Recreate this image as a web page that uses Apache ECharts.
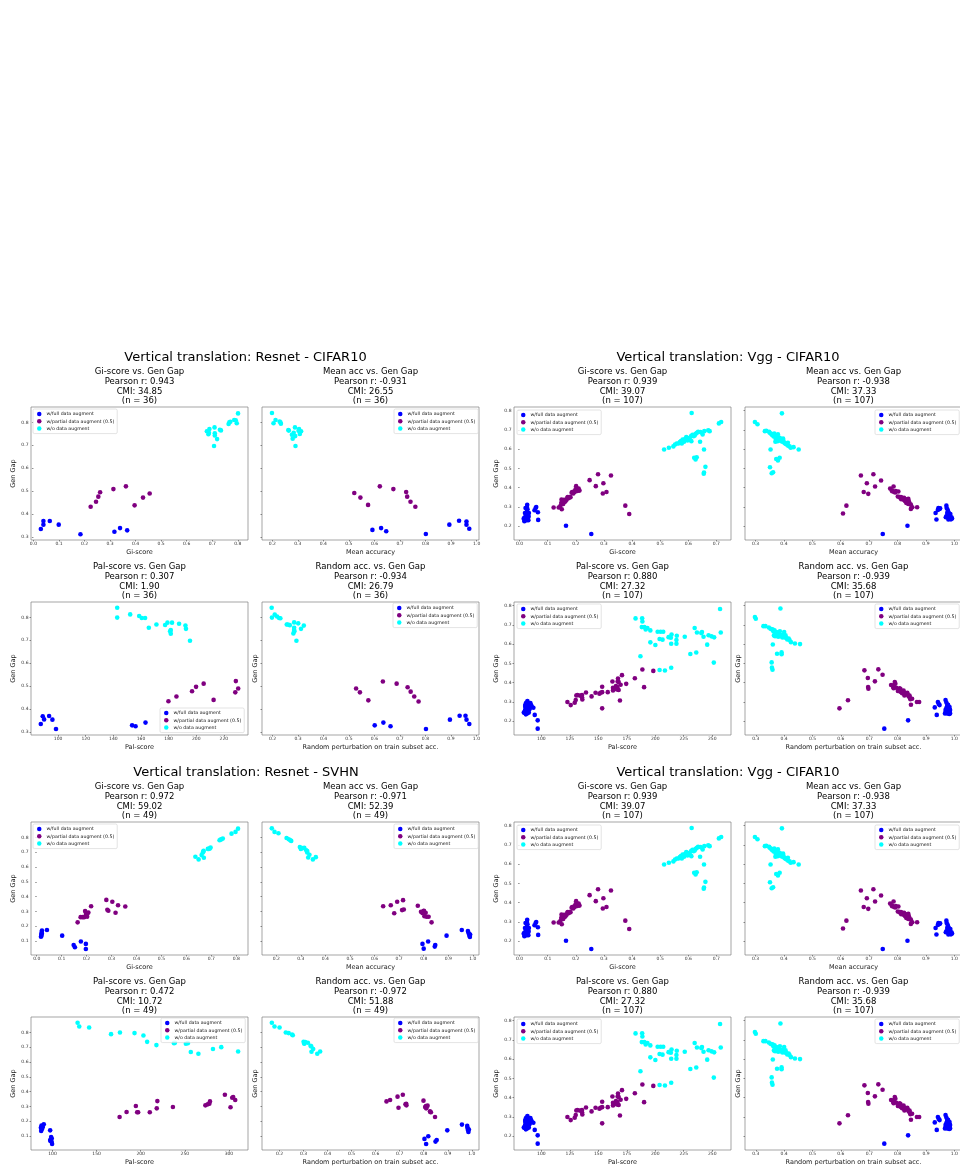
<!DOCTYPE html>
<html><head><meta charset="utf-8">
<script src="https://cdn.jsdelivr.net/npm/echarts@6/dist/echarts.min.js"></script>
<style>html,body{margin:0;padding:0;background:#fff}#c{width:960px;height:1168px}</style>
</head><body><div id="c"></div>
<script>
const GROUPS = ['w/full data augment', 'w/partial data augment (0.5)', 'w/o data augment'];
const COLORS = ['#0000ff', '#800080', '#00ffff'];
const SUBTITLES = ['Gi-score vs. Gen Gap', 'Mean acc vs. Gen Gap', 'Pal-score vs. Gen Gap', 'Random acc. vs. Gen Gap'];
const XNAMES = ['Gi-score', 'Mean accuracy', 'Pal-score', 'Random perturbation on train subset acc.'];

// ---------- Resnet - CIFAR10 ----------
const rcPearson = ['0.943', '-0.931', '0.307', '-0.934'];
const rcCMI = ['34.85', '26.55', '1.90', '26.79'];
const rcN = 36;
const rcGiFull = [[0.029,0.335],[0.039,0.370],[0.039,0.354],[0.064,0.370],[0.099,0.354],[0.184,0.312],[0.317,0.323],[0.339,0.339],[0.367,0.329]];
const rcGiPartial = [[0.224,0.432],[0.245,0.454],[0.254,0.476],[0.261,0.495],[0.313,0.509],[0.362,0.521],[0.396,0.438],[0.429,0.472],[0.455,0.490]];
const rcGiNone = [[0.679,0.761],[0.685,0.748],[0.689,0.771],[0.709,0.778],[0.710,0.752],[0.710,0.743],[0.707,0.697],[0.719,0.727],[0.734,0.765],[0.730,0.768],[0.764,0.793],[0.767,0.800],[0.771,0.803],[0.786,0.810],[0.796,0.796],[0.801,0.839],[0.792,0.809],[0.687,0.755]];
const rcAccFull = [[0.592,0.331],[0.626,0.339],[0.646,0.325],[0.801,0.313],[0.893,0.354],[0.931,0.371],[0.960,0.368],[0.960,0.354],[0.971,0.336]];
const rcAccPartial = [[0.521,0.492],[0.545,0.472],[0.575,0.440],[0.621,0.521],[0.674,0.509],[0.724,0.496],[0.728,0.476],[0.741,0.454],[0.760,0.432]];
const rcAccNone = [[0.199,0.841],[0.205,0.796],[0.213,0.810],[0.229,0.804],[0.234,0.794],[0.263,0.767],[0.277,0.746],[0.280,0.729],[0.289,0.778],[0.290,0.740],[0.291,0.697],[0.305,0.771],[0.308,0.749],[0.313,0.761],[0.265,0.764],[0.232,0.800],[0.303,0.763],[0.284,0.755]];
const rcPalFull = [[87.5,0.335],[88.9,0.369],[89.9,0.355],[93.5,0.370],[95.9,0.354],[98.5,0.313],[153.6,0.329],[156.1,0.325],[163.3,0.341]];
const rcPalPartial = [[179.9,0.434],[185.7,0.455],[197.0,0.478],[199.9,0.497],[205.4,0.511],[212.6,0.440],[228.3,0.473],[228.7,0.522],[230.4,0.490]];
const rcPalNone = [[142.8,0.842],[142.8,0.799],[152.2,0.813],[158.7,0.806],[160.6,0.797],[163.0,0.797],[165.7,0.755],[171.2,0.769],[177.5,0.767],[179.2,0.777],[181.1,0.739],[181.6,0.729],[182.5,0.777],[187.6,0.772],[192.2,0.764],[192.6,0.750],[195.5,0.698],[181.6,0.745]];
const rcRandFull = [[0.601,0.329],[0.635,0.341],[0.663,0.325],[0.802,0.313],[0.896,0.354],[0.934,0.371],[0.957,0.371],[0.961,0.354],[0.972,0.335]];
const rcRandPartial = [[0.528,0.490],[0.543,0.473],[0.576,0.438],[0.633,0.520],[0.687,0.511],[0.730,0.495],[0.742,0.476],[0.756,0.455],[0.773,0.433]];
const rcRandNone = [[0.197,0.842],[0.198,0.799],[0.209,0.812],[0.218,0.804],[0.226,0.797],[0.231,0.796],[0.260,0.769],[0.268,0.766],[0.285,0.778],[0.285,0.755],[0.285,0.745],[0.282,0.730],[0.301,0.774],[0.312,0.750],[0.323,0.764],[0.294,0.698],[0.256,0.769],[0.286,0.739]];

// ---------- Vgg - CIFAR10 ----------
const vcPearson = ['0.939', '-0.938', '0.880', '-0.939'];
const vcCMI = ['39.07', '37.33', '27.32', '35.68'];
const vcN = 107;
const vcGiFull = [[0.015,0.242],[0.017,0.226],[0.019,0.269],[0.021,0.295],[0.022,0.252],[0.025,0.231],[0.026,0.278],[0.027,0.311],[0.028,0.288],[0.030,0.257],[0.031,0.231],[0.032,0.250],[0.018,0.243],[0.024,0.240],[0.028,0.243],[0.033,0.269],[0.053,0.283],[0.057,0.295],[0.059,0.300],[0.065,0.273],[0.066,0.233],[0.165,0.203],[0.255,0.160],[0.023,0.262],[0.016,0.236],[0.020,0.248],[0.029,0.236],[0.026,0.300]];
const vcGiPartial = [[0.121,0.297],[0.139,0.297],[0.148,0.321],[0.149,0.338],[0.150,0.288],[0.154,0.330],[0.163,0.330],[0.167,0.338],[0.170,0.347],[0.177,0.351],[0.181,0.351],[0.187,0.378],[0.191,0.370],[0.196,0.378],[0.201,0.408],[0.203,0.387],[0.210,0.396],[0.213,0.385],[0.158,0.337],[0.155,0.316],[0.249,0.439],[0.271,0.408],[0.279,0.470],[0.296,0.370],[0.298,0.423],[0.309,0.378],[0.325,0.463],[0.376,0.307],[0.390,0.264],[0.160,0.326],[0.174,0.345],[0.185,0.374],[0.145,0.305],[0.199,0.392],[0.157,0.333],[0.205,0.383],[0.171,0.352],[0.194,0.380]];
const vcGiNone = [[0.514,0.598],[0.531,0.607],[0.547,0.614],[0.553,0.624],[0.559,0.629],[0.565,0.629],[0.570,0.636],[0.574,0.641],[0.580,0.650],[0.585,0.638],[0.589,0.653],[0.593,0.662],[0.597,0.645],[0.600,0.652],[0.605,0.658],[0.610,0.667],[0.615,0.674],[0.619,0.667],[0.623,0.671],[0.626,0.679],[0.631,0.684],[0.635,0.690],[0.642,0.638],[0.644,0.688],[0.651,0.676],[0.657,0.693],[0.671,0.697],[0.676,0.693],[0.709,0.733],[0.717,0.740],[0.612,0.787],[0.621,0.555],[0.626,0.546],[0.630,0.558],[0.656,0.598],[0.661,0.508],[0.655,0.472],[0.656,0.479],[0.611,0.641],[0.577,0.629],[0.603,0.648]];
const vcAccFull = [[0.748,0.160],[0.835,0.203],[0.934,0.269],[0.937,0.235],[0.942,0.285],[0.944,0.295],[0.948,0.290],[0.950,0.293],[0.972,0.307],[0.973,0.295],[0.976,0.287],[0.978,0.278],[0.980,0.269],[0.983,0.261],[0.985,0.252],[0.987,0.243],[0.988,0.236],[0.978,0.248],[0.972,0.252],[0.970,0.247],[0.984,0.239],[0.990,0.247],[0.975,0.269],[0.979,0.235],[0.986,0.264],[0.981,0.242],[0.976,0.257],[0.992,0.240]];
const vcAccPartial = [[0.608,0.266],[0.620,0.307],[0.671,0.463],[0.681,0.378],[0.692,0.423],[0.697,0.368],[0.715,0.470],[0.721,0.406],[0.742,0.437],[0.774,0.396],[0.780,0.387],[0.786,0.406],[0.788,0.378],[0.794,0.382],[0.803,0.380],[0.807,0.351],[0.812,0.351],[0.816,0.347],[0.821,0.342],[0.823,0.347],[0.827,0.330],[0.831,0.321],[0.835,0.337],[0.838,0.342],[0.840,0.330],[0.843,0.316],[0.847,0.290],[0.852,0.299],[0.869,0.299],[0.822,0.337],[0.815,0.344],[0.801,0.354],[0.781,0.382],[0.792,0.375],[0.838,0.316],[0.830,0.340],[0.813,0.340],[0.847,0.312]];
const vcAccNone = [[0.298,0.740],[0.307,0.729],[0.333,0.693],[0.338,0.695],[0.350,0.684],[0.355,0.679],[0.359,0.672],[0.364,0.665],[0.369,0.672],[0.373,0.662],[0.377,0.655],[0.381,0.650],[0.385,0.658],[0.387,0.643],[0.392,0.652],[0.394,0.638],[0.399,0.641],[0.402,0.631],[0.406,0.627],[0.410,0.624],[0.415,0.617],[0.420,0.614],[0.424,0.607],[0.434,0.610],[0.452,0.598],[0.370,0.638],[0.353,0.598],[0.373,0.549],[0.379,0.541],[0.385,0.555],[0.351,0.506],[0.357,0.475],[0.362,0.480],[0.393,0.785],[0.379,0.676],[0.366,0.681],[0.348,0.690],[0.397,0.655],[0.378,0.641],[0.414,0.633],[0.371,0.653]];
const vcPalFull = [[84.6,0.245],[85.5,0.253],[85.8,0.279],[86.1,0.288],[86.1,0.270],[86.1,0.262],[86.4,0.236],[86.7,0.296],[86.9,0.250],[87.2,0.265],[87.5,0.279],[87.8,0.305],[88.4,0.289],[88.7,0.270],[89.0,0.245],[89.6,0.262],[90.4,0.295],[91.0,0.284],[91.6,0.276],[93.0,0.270],[94.2,0.233],[96.8,0.205],[96.8,0.162],[87.5,0.241],[88.4,0.253],[85.5,0.245],[86.4,0.258],[89.3,0.281]];
const vcPalPartial = [[122.9,0.300],[125.8,0.284],[129.3,0.296],[130.2,0.310],[130.7,0.334],[131.6,0.336],[133.6,0.334],[135.7,0.336],[135.7,0.324],[136.0,0.313],[139.2,0.349],[144.1,0.329],[147.6,0.348],[151.0,0.343],[151.9,0.348],[153.4,0.379],[153.4,0.351],[153.4,0.267],[158.3,0.351],[162.4,0.406],[162.9,0.374],[162.9,0.360],[166.1,0.370],[166.4,0.365],[166.7,0.377],[167.0,0.406],[167.3,0.422],[167.9,0.403],[167.9,0.362],[169.0,0.308],[169.6,0.389],[170.8,0.439],[174.5,0.394],[182.1,0.423],[188.7,0.468],[190.2,0.377],[198.3,0.461],[165.5,0.382]];
const vcPalNone = [[182.7,0.733],[188.5,0.734],[188.7,0.717],[188.2,0.688],[190.5,0.688],[191.6,0.676],[193.1,0.683],[187.0,0.537],[195.7,0.671],[195.7,0.609],[200.1,0.595],[202.1,0.664],[203.8,0.626],[204.7,0.664],[206.4,0.623],[207.0,0.664],[203.8,0.466],[208.5,0.463],[211.7,0.636],[213.7,0.633],[214.3,0.650],[214.0,0.602],[218.6,0.621],[218.9,0.643],[218.6,0.602],[225.9,0.638],[230.8,0.549],[234.6,0.683],[236.0,0.556],[236.6,0.660],[240.4,0.657],[241.0,0.662],[242.4,0.638],[245.6,0.597],[246.8,0.646],[249.4,0.640],[251.7,0.635],[251.4,0.504],[256.9,0.782],[257.5,0.660],[214.0,0.477]];
const vcRandFull = [[0.753,0.162],[0.837,0.205],[0.931,0.272],[0.938,0.233],[0.942,0.300],[0.945,0.290],[0.948,0.284],[0.969,0.310],[0.972,0.297],[0.975,0.284],[0.977,0.276],[0.979,0.266],[0.982,0.257],[0.984,0.248],[0.985,0.241],[0.970,0.248],[0.967,0.241],[0.975,0.240],[0.979,0.245],[0.985,0.259],[0.972,0.269],[0.977,0.252],[0.982,0.238],[0.969,0.259],[0.983,0.274],[0.978,0.286],[0.972,0.259],[0.975,0.276]];
const vcRandPartial = [[0.595,0.267],[0.625,0.309],[0.683,0.464],[0.695,0.424],[0.696,0.378],[0.697,0.369],[0.720,0.407],[0.732,0.469],[0.747,0.441],[0.777,0.388],[0.786,0.386],[0.790,0.403],[0.792,0.395],[0.786,0.371],[0.795,0.374],[0.807,0.371],[0.810,0.353],[0.814,0.350],[0.819,0.350],[0.822,0.347],[0.828,0.345],[0.831,0.341],[0.836,0.338],[0.839,0.329],[0.843,0.324],[0.847,0.286],[0.851,0.317],[0.868,0.300],[0.876,0.300],[0.824,0.334],[0.816,0.345],[0.801,0.357],[0.784,0.379],[0.834,0.348],[0.842,0.334],[0.810,0.367],[0.845,0.314],[0.821,0.359]];
const vcRandNone = [[0.297,0.740],[0.300,0.731],[0.327,0.693],[0.334,0.693],[0.346,0.686],[0.359,0.676],[0.362,0.667],[0.366,0.672],[0.369,0.659],[0.373,0.662],[0.376,0.652],[0.380,0.659],[0.383,0.648],[0.387,0.641],[0.390,0.645],[0.394,0.634],[0.400,0.662],[0.403,0.634],[0.408,0.631],[0.411,0.624],[0.416,0.629],[0.419,0.621],[0.424,0.610],[0.438,0.603],[0.456,0.600],[0.360,0.598],[0.375,0.550],[0.391,0.547],[0.391,0.557],[0.356,0.505],[0.357,0.478],[0.359,0.467],[0.387,0.784],[0.368,0.641],[0.379,0.638],[0.352,0.679],[0.396,0.648],[0.372,0.648],[0.385,0.666],[0.364,0.645],[0.405,0.645]];

// ---------- Resnet - SVHN ----------
const rsPearson = ['0.972', '-0.971', '0.472', '-0.972'];
const rsCMI = ['59.02', '52.39', '10.72', '51.88'];
const rsN = 49;
const rsGiFull = [[0.017,0.129],[0.019,0.145],[0.020,0.161],[0.021,0.170],[0.019,0.136],[0.020,0.152],[0.041,0.174],[0.102,0.136],[0.148,0.073],[0.153,0.057],[0.177,0.096],[0.197,0.080],[0.197,0.046]];
const rsGiPartial = [[0.164,0.226],[0.176,0.261],[0.184,0.261],[0.190,0.261],[0.194,0.302],[0.198,0.279],[0.203,0.284],[0.207,0.293],[0.218,0.335],[0.279,0.378],[0.283,0.311],[0.287,0.304],[0.303,0.365],[0.316,0.291],[0.326,0.342],[0.355,0.333],[0.202,0.264],[0.197,0.291]];
const rsGiNone = [[0.636,0.670],[0.649,0.652],[0.661,0.681],[0.666,0.699],[0.669,0.710],[0.670,0.663],[0.686,0.723],[0.694,0.726],[0.697,0.732],[0.733,0.782],[0.737,0.786],[0.746,0.793],[0.781,0.826],[0.797,0.838],[0.807,0.860],[0.668,0.705],[0.690,0.723],[0.741,0.788]];
const rsAccFull = [[0.795,0.080],[0.800,0.048],[0.818,0.096],[0.845,0.062],[0.847,0.073],[0.893,0.136],[0.955,0.174],[0.980,0.167],[0.982,0.156],[0.985,0.147],[0.986,0.136],[0.988,0.127],[0.989,0.143]];
const rsAccPartial = [[0.635,0.335],[0.666,0.342],[0.680,0.288],[0.692,0.365],[0.712,0.309],[0.716,0.376],[0.719,0.313],[0.776,0.338],[0.789,0.297],[0.796,0.288],[0.801,0.304],[0.803,0.268],[0.812,0.264],[0.820,0.264],[0.832,0.226],[0.808,0.291],[0.795,0.291],[0.799,0.302]];
const rsAccNone = [[0.182,0.862],[0.193,0.838],[0.209,0.829],[0.242,0.797],[0.251,0.788],[0.257,0.782],[0.261,0.777],[0.296,0.735],[0.300,0.723],[0.305,0.728],[0.314,0.730],[0.322,0.714],[0.326,0.708],[0.326,0.699],[0.335,0.683],[0.330,0.665],[0.349,0.652],[0.361,0.667]];
const rsPalFull = [[86.9,0.156],[87.2,0.134],[87.6,0.170],[90.2,0.179],[88.0,0.145],[97.4,0.138],[97.4,0.073],[98.5,0.093],[99.2,0.059],[99.6,0.046],[99.2,0.082],[97.7,0.066],[89.1,0.161]];
const rsPalPartial = [[176.1,0.228],[184.0,0.262],[194.5,0.303],[196.0,0.260],[197.1,0.260],[210.3,0.260],[218.2,0.287],[218.9,0.336],[236.5,0.296],[273.3,0.307],[275.9,0.314],[278.5,0.334],[295.4,0.379],[301.8,0.294],[304.8,0.364],[307.1,0.343],[277.8,0.318],[303.7,0.359]];
const rsPalNone = [[128.5,0.866],[130.4,0.841],[141.6,0.834],[166.4,0.789],[176.5,0.800],[193.0,0.796],[203.1,0.780],[207.3,0.737],[217.8,0.715],[237.7,0.728],[251.2,0.724],[253.4,0.728],[256.8,0.668],[265.4,0.656],[281.9,0.688],[291.3,0.701],[310.4,0.672],[238.8,0.730]];
const rsRandFull = [[0.803,0.080],[0.810,0.046],[0.819,0.098],[0.849,0.062],[0.854,0.073],[0.898,0.138],[0.959,0.177],[0.981,0.168],[0.982,0.156],[0.984,0.147],[0.985,0.138],[0.986,0.127],[0.988,0.143]];
const rsRandPartial = [[0.645,0.334],[0.660,0.343],[0.691,0.366],[0.695,0.291],[0.713,0.379],[0.724,0.314],[0.728,0.307],[0.799,0.339],[0.806,0.296],[0.810,0.287],[0.816,0.305],[0.827,0.262],[0.830,0.260],[0.847,0.228],[0.812,0.296],[0.809,0.303],[0.826,0.267],[0.727,0.318]];
const rsRandNone = [[0.168,0.866],[0.179,0.841],[0.200,0.834],[0.226,0.800],[0.238,0.796],[0.252,0.787],[0.255,0.782],[0.300,0.737],[0.303,0.728],[0.307,0.735],[0.318,0.731],[0.329,0.710],[0.332,0.706],[0.333,0.670],[0.340,0.688],[0.357,0.656],[0.369,0.672],[0.303,0.724]];

// ---------- tick labels ----------
const ticksGiRc = ['0.0','0.1','0.2','0.3','0.4','0.5','0.6','0.7','0.8'];
const ticksAcc = ['0.2','0.3','0.4','0.5','0.6','0.7','0.8','0.9','1.0'];
const ticksPalRc = ['80','100','120','140','160','180','200','220'];
const ticksGiVc = ['0.0','0.1','0.2','0.3','0.4','0.5','0.6','0.7'];
const ticksAccVc = ['0.3','0.4','0.5','0.6','0.7','0.8','0.9','1.0'];
const ticksPalVc = ['100','125','150','175','200','225','250'];
const ticksPalRs = ['100','150','200','250','300'];
const ticksGapRc = ['0.3','0.4','0.5','0.6','0.7','0.8'];
const ticksGapVc = ['0.2','0.3','0.4','0.5','0.6','0.7','0.8'];
const ticksGapRs = ['0.1','0.2','0.3','0.4','0.5','0.6','0.7','0.8'];

// ---------- layout ----------
const FONT = 'DejaVu Sans';
const GW = 217, GH = 133;
const panels = [
  { title: 'Vertical translation: Resnet - CIFAR10', cx: 245.5, cy: 358, lefts: [31, 262], tops: [407, 602],
    n: rcN, pearson: rcPearson, cmi: rcCMI,
    data: [[rcGiFull, rcGiPartial, rcGiNone], [rcAccFull, rcAccPartial, rcAccNone], [rcPalFull, rcPalPartial, rcPalNone], [rcRandFull, rcRandPartial, rcRandNone]],
    xr: [[-0.0096, 0.840], [0.160, 1.009], [80.4, 237.5], [0.159, 1.010]],
    xt: [ticksGiRc, ticksAcc, ticksPalRc, ticksAcc],
    yr: [0.287, 0.867], yt: ticksGapRc,
    legends: [[33, 409], [394, 409], [160, 708], [393, 603]] },
  { title: 'Vertical translation: Vgg - CIFAR10', cx: 728, cy: 358, lefts: [514, 745], tops: [407, 602],
    n: vcN, pearson: vcPearson, cmi: vcCMI,
    data: [[vcGiFull, vcGiPartial, vcGiNone], [vcAccFull, vcAccPartial, vcAccNone], [vcPalFull, vcPalPartial, vcPalNone], [vcRandFull, vcRandPartial, vcRandNone]],
    xr: [[-0.020, 0.752], [0.263, 1.027], [76.0, 266.5], [0.262, 1.027]],
    xt: [ticksGiVc, ticksAccVc, ticksPalVc, ticksAccVc],
    yr: [0.129, 0.818], yt: ticksGapVc,
    legends: [[517, 410], [875, 410], [517, 604], [875, 604]] },
  { title: 'Vertical translation: Resnet - SVHN', cx: 246, cy: 773, lefts: [31, 262], tops: [822, 1017],
    n: rsN, pearson: rsPearson, cmi: rsCMI,
    data: [[rsGiFull, rsGiPartial, rsGiNone], [rsAccFull, rsAccPartial, rsAccNone], [rsPalFull, rsPalPartial, rsPalNone], [rsRandFull, rsRandPartial, rsRandNone]],
    xr: [[-0.023, 0.847], [0.142, 1.025], [75.7, 321.6], [0.127, 1.030]],
    xt: [ticksGiRc, ticksAcc, ticksPalRs, ticksAcc],
    yr: [0.005, 0.905], yt: ticksGapRs,
    legends: [[33, 824], [394, 824], [161, 1018], [394, 1018]] },
  { title: 'Vertical translation: Vgg - CIFAR10', cx: 728, cy: 773, lefts: [514, 745], tops: [822, 1017],
    n: vcN, pearson: vcPearson, cmi: vcCMI,
    data: [[vcGiFull, vcGiPartial, vcGiNone], [vcAccFull, vcAccPartial, vcAccNone], [vcPalFull, vcPalPartial, vcPalNone], [vcRandFull, vcRandPartial, vcRandNone]],
    xr: [[-0.020, 0.752], [0.263, 1.027], [76.0, 266.5], [0.262, 1.027]],
    xt: [ticksGiVc, ticksAccVc, ticksPalVc, ticksAccVc],
    yr: [0.129, 0.818], yt: ticksGapVc,
    legends: [[517, 825], [875, 825], [517, 1019], [875, 1019]] }
];

const option = { animation: false, backgroundColor: '#ffffff', grid: [], xAxis: [], yAxis: [], series: [], legend: [], graphic: [] };
const tickStyle = { color: '#444', width: 0.6 };
let gi = 0;
panels.forEach(p => {
  option.graphic.push({ type: 'text', x: p.cx, y: p.cy, silent: true,
    style: { text: p.title, fill: '#000', fontFamily: FONT, fontSize: 13, align: 'center', verticalAlign: 'middle', textAlign: 'center', textVerticalAlign: 'middle' } });
  for (let k = 0; k < 4; k++) {
    const row = Math.floor(k / 2), col = k % 2;
    const left = p.lefts[col], top = p.tops[row];
    const xDec = k === 2 ? 0 : 1;
    option.grid.push({ left: left, top: top, width: GW, height: GH, show: true, borderColor: '#808080', borderWidth: 0.7,
      backgroundColor: 'transparent', containLabel: false, outerBoundsMode: 'none' });
    const xv = p.xt[k].map(Number);
    option.xAxis.push({ type: 'value', gridIndex: gi, min: p.xr[k][0], max: p.xr[k][1],
      name: XNAMES[k], nameLocation: 'middle', nameGap: 8.7,
      nameTextStyle: { fontFamily: FONT, fontSize: 6.5, color: '#222' },
      axisLine: { show: false }, splitLine: { show: false },
      axisTick: { show: true, inside: false, length: 1.5, lineStyle: tickStyle, customValues: xv },
      axisLabel: { show: true, fontFamily: FONT, fontSize: 4.5, color: '#333', margin: 1.8, customValues: xv,
        formatter: v => Number(v).toFixed(xDec) } });
    const yv = p.yt.map(Number);
    const showYName = !(row === 0 && col === 1);
    option.yAxis.push({ type: 'value', gridIndex: gi, min: p.yr[0], max: p.yr[1],
      name: showYName ? 'Gen Gap' : '', nameLocation: 'middle', nameGap: col === 0 ? 14.2 : 3,
      nameTextStyle: { fontFamily: FONT, fontSize: 6.5, color: '#222' },
      axisLine: { show: false }, splitLine: { show: false },
      axisTick: { show: true, inside: false, length: 1.5, lineStyle: tickStyle, customValues: yv },
      axisLabel: { show: col === 0, fontFamily: FONT, fontSize: 4.5, color: '#333', margin: 2.5, customValues: yv,
        formatter: v => Number(v).toFixed(1) } });
    p.data[k].forEach((d, g) => {
      option.series.push({ type: 'scatter', name: GROUPS[g], xAxisIndex: gi, yAxisIndex: gi, data: d,
        symbol: 'circle', symbolSize: 4.6, silent: true, z: 2 + g,
        itemStyle: { color: COLORS[g], opacity: 1, borderWidth: 0 } });
    });
    option.legend.push({ left: p.legends[k][0], top: p.legends[k][1], orient: 'vertical', selectedMode: false,
      data: GROUPS.map(n => ({ name: n, icon: 'circle' })), itemWidth: 4.5, itemHeight: 4.5, itemGap: 2.3,
      padding: [2.5, 3, 2.5, 4], borderColor: '#d0d0d0', borderWidth: 0.6, borderRadius: 1.5,
      backgroundColor: 'rgba(255,255,255,0.8)', z: 10,
      textStyle: { fontFamily: FONT, fontSize: 4.7, color: '#111', lineHeight: 5 } });
    const sub = SUBTITLES[k] + '\nPearson r: ' + p.pearson[k] + '\nCMI: ' + p.cmi[k] + '\n(n = ' + p.n + ')';
    option.graphic.push({ type: 'text', x: left + GW / 2, y: top - 39.8, silent: true,
      style: { text: sub, fill: '#000', fontFamily: FONT, fontSize: 8.5, lineHeight: 9.7,
        align: 'center', verticalAlign: 'top', textAlign: 'center', textVerticalAlign: 'top' } });
    gi++;
  }
});

const chart = echarts.init(document.getElementById('c'), null, { renderer: 'canvas' });
chart.setOption(option);
</script></body></html>
